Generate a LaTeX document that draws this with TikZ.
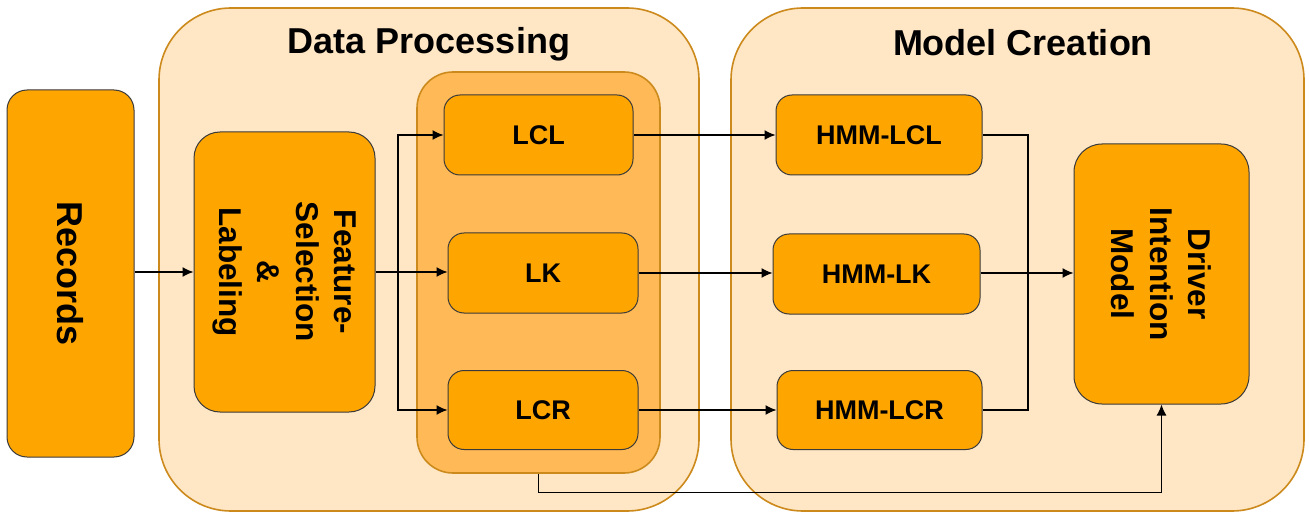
\documentclass[tikz,border=0pt]{standalone}
\usepackage{fontspec}
\setmainfont{Liberation Sans}
\usetikzlibrary{arrows.meta,calc,positioning}
\definecolor{StageFill}{HTML}{FFE6C4}
\definecolor{StageLine}{HTML}{CC8A1C}
\definecolor{GroupFill}{HTML}{FFBA57}
\definecolor{BoxFill}{HTML}{FFA500}
\definecolor{BoxLine}{HTML}{3A3A3A}

\tikzset{
  stage/.style={draw=StageLine, fill=StageFill, line width=1.6pt, rounded corners=72pt},
  group/.style={draw=StageLine, fill=GroupFill, line width=1.6pt, rounded corners=36pt},
  block/.style={draw=BoxLine, fill=BoxFill, line width=1pt, rounded corners=16pt, inner sep=0pt,
    font=\fontsize{27}{32}\selectfont\bfseries},
  vtext/.style={rotate=-90, align=center, inner sep=0pt},
  title/.style={anchor=base, font=\fontsize{36}{40}\selectfont\bfseries},
  arr/.style={-{Latex[length=11pt,width=10pt]}, line width=1.3pt},
  wire/.style={line width=1.3pt}
}

\begin{document}
\begin{tikzpicture}[x=1pt, y=-1pt]
  \useasboundingbox (0,0) rectangle (1309,513);
  % stages
  \draw[stage] (159,8) rectangle (699,511);
  \draw[stage] (731,8) rectangle (1304,511);
  \node[title] (dptitle) at (429,54) {Data Processing};
  \node[title] (mctitle) at (1023,56) {Model Creation};
  \node[group, minimum width=243pt, minimum height=401pt] (grp) at (538.5,272.5) {};

  % blocks
  \node[block, rounded corners=20pt, minimum width=127pt, minimum height=367pt] (records) at (70.5,273.5) {};
  \node[vtext, font=\fontsize{36}{42}\selectfont\bfseries] (recordstxt) at (records) {Records};
  \node[block, rounded corners=26pt, minimum width=181pt, minimum height=280pt] (feat) at (284.5,272) {};
  \node[vtext, font=\fontsize{31.5}{38.5}\selectfont\bfseries] (feattxt) at (feat) {Feature-\\Selection\\\&\\Labeling};
  \node[block, minimum width=189pt, minimum height=80pt] (lcl) at (538.5,135) {LCL};
  \node[block, minimum width=190pt, minimum height=80pt] (lk) at (543,273) {LK};
  \node[block, minimum width=190pt, minimum height=79pt] (lcr) at (543,410) {LCR};
  \node[block, minimum width=206pt, minimum height=80pt] (hmmlcl) at (879,135) {HMM-LCL};
  \node[block, minimum width=207pt, minimum height=80pt] (hmmlk) at (876.5,274) {HMM-LK};
  \node[block, minimum width=205pt, minimum height=79pt] (hmmlcr) at (879.5,410) {HMM-LCR};
  \node[block, rounded corners=28pt, minimum width=175pt, minimum height=260pt] (driver) at (1161.5,274) {};
  \node[vtext, font=\fontsize{31.5}{38.5}\selectfont\bfseries] (drivertxt) at (driver) {Driver\\Intention\\Model};

  % connectors
  \coordinate (split) at (398,272);
  \coordinate (join) at (1028,273);
  \draw[arr] (records.east |- feat) -- (feat.west);
  \draw[arr] (feat.east) -- (lk.west |- feat.east);
  \draw[arr] (split) |- (lcl.west);
  \draw[arr] (split) |- (lcr.west);
  \draw[arr] (lcl.east) -- (hmmlcl.west);
  \draw[arr] (lk.east) -- (hmmlk.west |- lk.east);
  \draw[arr] (lcr.east) -- (hmmlcr.west);
  \draw[wire] (hmmlcl.east) -| (join) |- (hmmlcr.east);
  \draw[arr] (hmmlk.east |- join) -- (driver.west |- join);
  \draw[arr] (grp.south) -- ++(0,19) -| (driver.south);
\end{tikzpicture}
\end{document}
